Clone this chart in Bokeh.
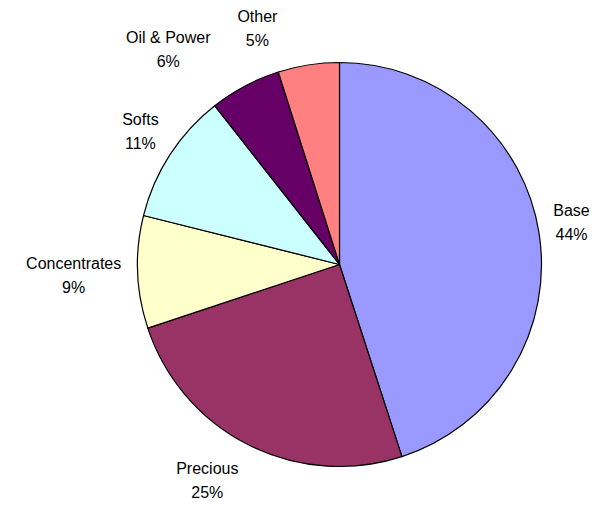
import numpy as np
from bokeh.plotting import figure
from bokeh.models import Range1d, ColumnDataSource
from bokeh.core.properties import value
from bokeh.embed import file_html
from bokeh.resources import INLINE

# ---- data ----
categories = ["Base", "Precious", "Concentrates", "Softs", "Oil & Power", "Other"]
shares = [45.0, 24.9, 9.0, 10.5, 5.7, 4.9]
pct_labels = ["44%", "25%", "9%", "11%", "6%", "5%"]
colors = ["#9999FF", "#993366", "#FFFFCC", "#CCFFFF", "#660066", "#FF8080"]

# ---- layout / style ----
W, H = 598, 506
CX, CY, R = 339, 242, 202          # pie centre and radius (canvas units)
LABEL_R = 242                      # distance of label centres from the pie centre
LINE_GAP = 12                      # half spacing between the two label lines
label_nudge = [(-7, 4), (-23, 0), (-24, -2), (4, 1), (-58, 1), (-45, -3)]
FONT = value("Liberation Sans")

total = float(sum(shares))
frac = np.array(shares) / total
ends = np.cumsum(frac)
starts = ends - frac
start_angle = np.pi / 2 - 2 * np.pi * ends
end_angle = np.pi / 2 - 2 * np.pi * starts
mid = 2 * np.pi * (starts + ends) / 2

lx = [CX + LABEL_R * np.sin(m) + n[0] for m, n in zip(mid, label_nudge)]
ly = [CY + LABEL_R * np.cos(m) + n[1] for m, n in zip(mid, label_nudge)]

src = ColumnDataSource(dict(
    cat=categories, pct=pct_labels, color=colors,
    start=start_angle, end=end_angle,
    x=[CX] * len(categories), y=[CY] * len(categories),
    lx=lx, ly_name=[v + LINE_GAP for v in ly], ly_pct=[v - LINE_GAP for v in ly],
))

p = figure(width=W, height=H, output_backend="svg", toolbar_location=None,
           x_range=Range1d(0, W), y_range=Range1d(0, H), min_border=0)
p.axis.visible = False
p.grid.visible = False
p.outline_line_color = None
p.background_fill_color = "white"

p.wedge(x="x", y="y", radius=R, start_angle="start", end_angle="end",
        direction="anticlock", fill_color="color", line_color="black",
        line_width=1.2, source=src)

p.text(x="lx", y="ly_name", text="cat", source=src, text_font=FONT,
       text_font_size="16px", text_color="black", text_align="center",
       text_baseline="middle")
p.text(x="lx", y="ly_pct", text="pct", source=src, text_font=FONT,
       text_font_size="16px", text_color="black", text_align="center",
       text_baseline="middle")

open("out.html", "w").write(file_html(p, INLINE))
